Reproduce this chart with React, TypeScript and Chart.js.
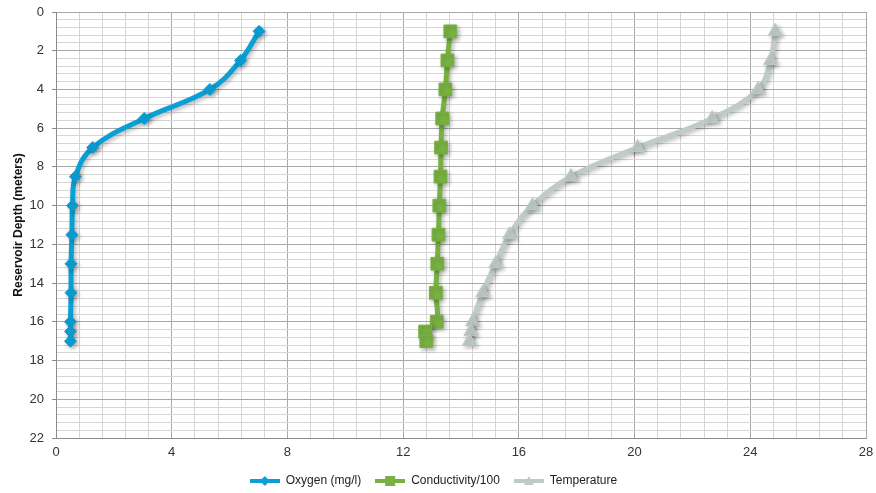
import React, { useEffect, useRef } from 'react';
import { Chart, registerables } from 'chart.js';

Chart.register(...registerables);

const depths = [1, 2.5, 4, 5.5, 7, 8.5, 10, 11.5, 13, 14.5, 16, 16.5, 17];
const oxygen = [7.02, 6.38, 5.32, 3.05, 1.27, 0.67, 0.57, 0.55, 0.52, 0.52, 0.5, 0.5, 0.5];
const conductivity = [13.63, 13.53, 13.46, 13.35, 13.31, 13.29, 13.25, 13.22, 13.18, 13.13, 13.16, 12.76, 12.8];
const temperature = [24.86, 24.7, 24.27, 22.68, 20.1, 17.8, 16.47, 15.68, 15.2, 14.75, 14.4, 14.34, 14.29];

const seriesNames = ['Oxygen (mg/l)', 'Conductivity/100', 'Temperature'];
const seriesColors = ['#0A9FD5', '#78B142', '#BFCBC6'];
const seriesMarkers = ['rectRot', 'rect', 'triangle'];
const markerRadii = [6, 9, 8];

const xTickLabels = [0, 4, 8, 12, 16, 20, 24, 28];
const yTickLabels = [0, 2, 4, 6, 8, 10, 12, 14, 16, 18, 20, 22];
const yAxisTitle = 'Reservoir Depth (meters)';

const MAJOR = '#a8a8a8';
const MINOR = '#d6d6d6';

const isLabel = (v: number, list: number[]) => list.some((t) => Math.abs(t - v) < 1e-6);

function legendImage(color: string, marker: string): HTMLCanvasElement {
  const c = document.createElement('canvas');
  c.width = 30;
  c.height = 12;
  const g = c.getContext('2d')!;
  g.strokeStyle = color;
  g.fillStyle = color;
  g.lineWidth = 4;
  g.beginPath();
  g.moveTo(0, 6);
  g.lineTo(30, 6);
  g.stroke();
  g.beginPath();
  if (marker === 'rectRot') {
    g.moveTo(15, 1);
    g.lineTo(20, 6);
    g.lineTo(15, 11);
    g.lineTo(10, 6);
  } else if (marker === 'rect') {
    g.rect(10, 1, 10, 10);
  } else {
    g.moveTo(15, 1);
    g.lineTo(20, 10);
    g.lineTo(10, 10);
  }
  g.closePath();
  g.fill();
  return c;
}

const shadowPlugin = {
  id: 'lineShadow',
  beforeDatasetDraw(chart: any) {
    const c = chart.ctx;
    c.save();
    c.shadowColor = 'rgba(0,0,0,0.28)';
    c.shadowBlur = 4;
    c.shadowOffsetX = 2;
    c.shadowOffsetY = 2;
  },
  afterDatasetDraw(chart: any) {
    chart.ctx.restore();
  },
};

export default function App() {
  const ref = useRef<HTMLCanvasElement | null>(null);

  useEffect(() => {
    if (!ref.current) return;
    const seriesValues = [oxygen, conductivity, temperature];
    const images = seriesColors.map((c, i) => legendImage(c, seriesMarkers[i]));

    const chart = new Chart(ref.current, {
      type: 'scatter',
      data: {
        datasets: seriesValues.map((vals, i) => ({
          label: seriesNames[i],
          data: vals.map((v, j) => ({ x: v, y: depths[j] })),
          showLine: true,
          borderColor: seriesColors[i],
          backgroundColor: seriesColors[i],
          borderWidth: 5,
          tension: 0.4,
          pointStyle: seriesMarkers[i] as any,
          pointRadius: markerRadii[i],
          pointBorderWidth: 1,
          pointBorderColor: seriesColors[i],
          pointBackgroundColor: seriesColors[i],
        })),
      },
      options: {
        animation: false,
        responsive: true,
        maintainAspectRatio: false,
        layout: { padding: { left: 0, right: 9, top: 12, bottom: -4 } },
        plugins: {
          tooltip: { enabled: false },
          legend: {
            position: 'bottom',
            labels: {
              usePointStyle: true,
              pointStyleWidth: 30,
              padding: 14,
              color: '#222',
              font: { family: "'Liberation Sans', Arial, sans-serif", size: 12 },
              generateLabels: (ch: any) =>
                ch.data.datasets.map((ds: any, i: number) => ({
                  text: ds.label,
                  fillStyle: seriesColors[i],
                  strokeStyle: seriesColors[i],
                  lineWidth: 0,
                  pointStyle: images[i],
                  hidden: false,
                  datasetIndex: i,
                  fontColor: '#222',
                })),
            },
          },
        },
        scales: {
          x: {
            type: 'linear',
            min: 0,
            max: 28,
            afterFit: (s: any) => {
              s.height = 23;
              s.paddingLeft = 0;
              s.paddingRight = 0;
            },
            border: { color: '#8c8c8c', width: 1 },
            grid: {
              drawTicks: false,
              color: (c: any) => (c.tick && isLabel(c.tick.value, xTickLabels) ? MAJOR : MINOR),
            },
            ticks: {
              stepSize: 0.8,
              autoSkip: false,
              maxTicksLimit: 1000,
              maxRotation: 0,
              padding: 7,
              color: '#333',
              font: { family: "'Liberation Sans', Arial, sans-serif", size: 13 },
              callback: (v: any) => {
                const n = Number(v);
                return isLabel(n, xTickLabels) ? String(Math.round(n)) : '';
              },
            },
          },
          y: {
            type: 'linear',
            reverse: true,
            min: 0,
            max: 22,
            afterFit: (s: any) => {
              s.width = 56;
              s.paddingTop = 0;
              s.paddingBottom = 0;
            },
            border: { color: '#8c8c8c', width: 1 },
            grid: {
              tickLength: 4,
              color: (c: any) => (c.tick && isLabel(c.tick.value, yTickLabels) ? MAJOR : MINOR),
              tickColor: (c: any) =>
                c.tick && isLabel(c.tick.value, yTickLabels) ? '#8c8c8c' : 'rgba(0,0,0,0)',
            },
            title: {
              display: true,
              text: yAxisTitle,
              color: '#111',
              padding: { top: 11, bottom: 0 },
              font: { family: "'Liberation Sans', Arial, sans-serif", size: 12, weight: 'bold' },
            },
            ticks: {
              stepSize: 0.4,
              autoSkip: false,
              maxTicksLimit: 1000,
              padding: 8,
              color: '#333',
              font: { family: "'Liberation Sans', Arial, sans-serif", size: 13 },
              callback: (v: any) => {
                const n = Number(v);
                return isLabel(n, yTickLabels) ? String(Math.round(n)) : '';
              },
            },
          },
        },
      },
      plugins: [shadowPlugin],
    });
    return () => chart.destroy();
  }, []);

  return (
    <div style={{ position: 'fixed', left: 0, top: 0, width: 876, height: 493, background: '#fff' }}>
      <canvas ref={ref} />
    </div>
  );
}
